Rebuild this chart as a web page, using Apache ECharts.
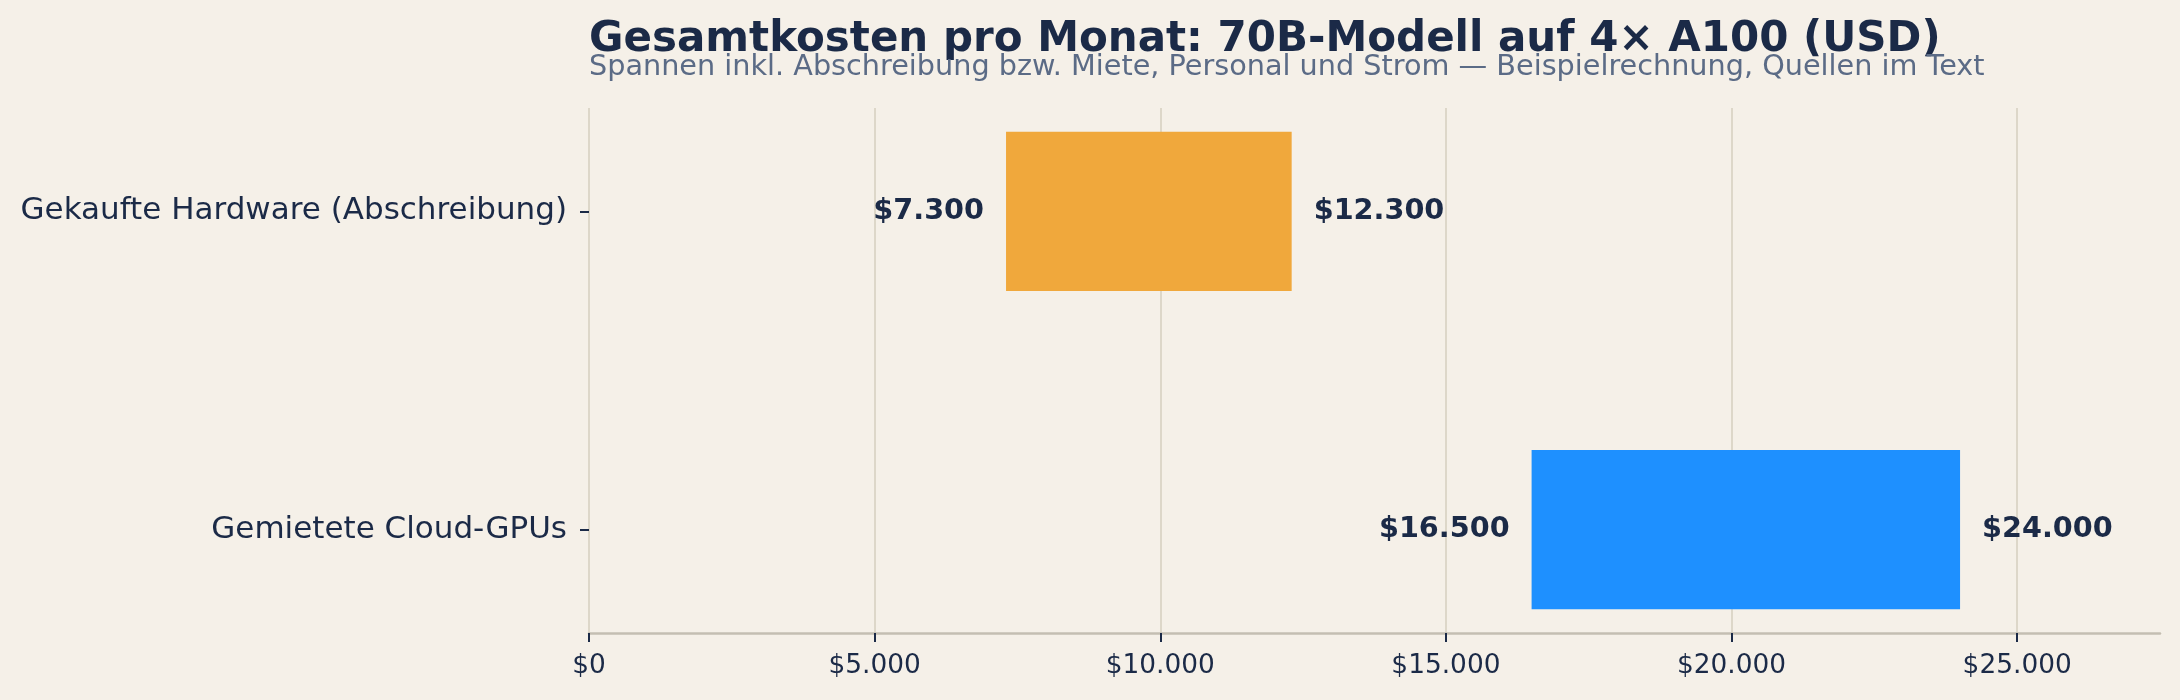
<!DOCTYPE html>
<html>
<head>
<meta charset="utf-8">
<script src="https://cdn.jsdelivr.net/npm/echarts@6/dist/echarts.min.js"></script>
<style>
html,body{margin:0;padding:0;background:#F5F0E8;}
#chart{width:2180px;height:700px;}
</style>
</head>
<body>
<div id="chart"></div>
<script>
const categories = ['Gekaufte Hardware (Abschreibung)', 'Gemietete Cloud-GPUs'];
const lowValues = [7300, 16500];
const highValues = [12300, 24000];
const xTickValues = [0, 5000, 10000, 15000, 20000, 25000];
const titleText = 'Gesamtkosten pro Monat: 70B-Modell auf 4× A100 (USD)';
const subtitleText = 'Spannen inkl. Abschreibung bzw. Miete, Personal und Strom — Beispielrechnung, Quellen im Text';

const barColors = ['#F0A83C', '#1E90FF'];
const NAVY = '#1B2A47';
const FONT = 'DejaVu Sans';

function fmtUSD(v) {
  return '$' + String(Math.round(v)).replace(/\B(?=(\d{3})+(?!\d))/g, '.');
}

const seriesData = categories.map((c, i) => [i, lowValues[i], highValues[i]]);

const chart = echarts.init(document.getElementById('chart'), null, {renderer: 'canvas'});
chart.setOption({
  backgroundColor: '#F5F0E8',
  animation: false,
  title: [{
    text: titleText,
    left: 589, top: 16, padding: 0,
    textStyle: {fontFamily: FONT, fontSize: 42, fontWeight: 'bold', color: NAVY, lineHeight: 48}
  }, {
    text: subtitleText,
    left: 589, top: 52, padding: 0,
    textStyle: {fontFamily: FONT, fontSize: 28.7, fontWeight: 'normal', color: '#5B6B86', lineHeight: 32}
  }],
  grid: {left: 589, right: 20, top: 108, bottom: 67, containLabel: false},
  xAxis: {
    type: 'value', min: 0, max: 27500, interval: 5000,
    axisLine: {show: true, onZero: false, lineStyle: {color: '#C4BEB2', width: 2.5}},
    axisTick: {show: true, length: 9, lineStyle: {color: NAVY, width: 2}, customValues: xTickValues},
    axisLabel: {fontFamily: FONT, fontSize: 26.4, color: NAVY, margin: 20, formatter: v => fmtUSD(v), customValues: xTickValues},
    splitLine: {show: true, lineStyle: {color: '#DDD7C9', width: 2}}
  },
  yAxis: {
    type: 'value', inverse: true, min: -0.325, max: 1.325,
    axisLine: {show: false, onZero: false},
    axisTick: {show: true, length: 9, inside: false, lineStyle: {color: NAVY, width: 2}, customValues: [0, 1]},
    axisLabel: {fontFamily: FONT, fontSize: 31, color: NAVY, margin: 22, customValues: [0, 1],
      formatter: v => categories[Math.round(v)] || ''},
    splitLine: {show: false}
  },
  series: [{
    type: 'custom',
    data: seriesData,
    encode: {x: [1, 2], y: 0},
    renderItem: function (params, api) {
      const idx = api.value(0);
      const lo = api.value(1), hi = api.value(2);
      const p0 = api.coord([lo, idx]);
      const p1 = api.coord([hi, idx]);
      const h = api.size([0, 0.5])[1];
      return {
        type: 'group',
        children: [{
          type: 'rect',
          shape: {x: p0[0], y: p0[1] - h / 2, width: p1[0] - p0[0], height: h},
          style: {fill: barColors[idx]}
        }, {
          type: 'text',
          x: p0[0] - 22, y: p0[1],
          style: {text: fmtUSD(lo), fontFamily: FONT, fontSize: 28.7, fontWeight: 'bold', fill: NAVY, align: 'right', verticalAlign: 'middle'}
        }, {
          type: 'text',
          x: p1[0] + 22, y: p1[1],
          style: {text: fmtUSD(hi), fontFamily: FONT, fontSize: 28.7, fontWeight: 'bold', fill: NAVY, align: 'left', verticalAlign: 'middle'}
        }]
      };
    }
  }]
});
</script>
</body>
</html>
